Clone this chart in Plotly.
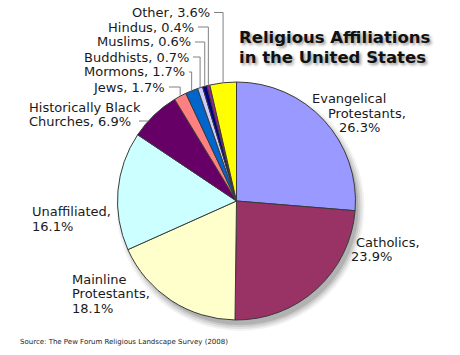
import math
import plotly.graph_objects as go

# ---- data ----
categories = ["Evangelical Protestants", "Catholics", "Mainline Protestants", "Unaffiliated",
              "Historically Black Churches", "Jews", "Mormons", "Buddhists", "Muslims",
              "Hindus", "Other"]
values = [26.3, 23.9, 18.1, 16.1, 6.9, 1.7, 1.7, 0.7, 0.6, 0.4, 3.6]
colors = ["#9999FF", "#993366", "#FFFFCC", "#CCFFFF", "#660066", "#FF8080",
          "#0066CC", "#CCCCFF", "#000080", "#A020A0", "#FFFF00"]
title_lines = ["Religious Affiliations", "in the United States"]
source_text = "Source: The Pew Forum Religious Landscape Survey (2008)"

# ---- layout helpers (pixel geometry) ----
W, H = 460, 355
cx, cy, R = 236.5, 201.0, 119.0


def px(x):
    return x / W


def py(y):
    return 1 - y / H


# words per line for each label
groups = [[1, 1, 1], [1, 1], [1, 1, 1], [1, 1], [2, 2], [2], [2], [2], [2], [2], [2]]
# (x, y, xanchor) for each line
pos = [
    [(310, 98.5, "left"), (326, 113, "left"), (337, 127.5, "left")],
    [(354, 242, "left"), (349, 256.5, "left")],
    [(70, 279, "left"), (70, 293.5, "left"), (70, 308, "left")],
    [(30, 211.5, "left"), (30, 226, "left")],
    [(27, 107, "left"), (27, 121, "left")],
    [(167, 87, "right")],
    [(187, 72, "right")],
    [(191, 57, "right")],
    [(193, 42, "right")],
    [(196, 27, "right")],
    [(212, 12.5, "right")],
]
label_font = dict(family="DejaVu Sans", size=13, color="#1a1a1a")

fig = go.Figure()
fig.add_trace(go.Pie(
    labels=categories, values=values, sort=False, direction="clockwise", rotation=0,
    marker=dict(colors=colors, line=dict(color="#3a3a3a", width=1)),
    textinfo="none", hoverinfo="label+percent", showlegend=False,
    domain=dict(x=[px(cx - R), px(cx + R)], y=[py(cy + R), py(cy - R)]),
))

annotations = []
for name, v, g, pp in zip(categories, values, groups, pos):
    tokens = name.split()
    tokens[-1] += ","
    tokens.append(f"{v}%")
    i = 0
    for n, (x, y, xa) in zip(g, pp):
        line = " ".join(tokens[i:i + n])
        i += n
        annotations.append(dict(text=line, x=px(x), y=py(y), xref="paper", yref="paper",
                                xanchor=xa, yanchor="middle", showarrow=False, font=label_font))

# title
for t, y in zip(title_lines, [37.5, 57]):
    annotations.append(dict(text=t, x=px(237), y=py(y), xref="paper", yref="paper",
                            xanchor="left", yanchor="middle", showarrow=False,
                            font=dict(family="DejaVu Sans", size=16.5, weight="bold", color="#111111",
                                      shadow="2px 2px 3px #999999")))
annotations.append(dict(text=source_text, x=px(18), y=py(342), xref="paper", yref="paper",
                        xanchor="left", yanchor="middle", showarrow=False,
                        font=dict(family="DejaVu Sans", size=7, color="#222222")))

shapes = []
# soft drop shadow behind the pie
for k, a in [(5, 0.05), (3, 0.07), (1, 0.09), (-1, 0.12)]:
    ox, oy = 4, 6
    shapes.append(dict(type="circle", xref="paper", yref="paper", layer="below",
                       x0=px(cx + ox - R - k), x1=px(cx + ox + R + k),
                       y0=py(cy + oy + R + k), y1=py(cy + oy - R - k),
                       fillcolor=f"rgba(0,0,0,{a})", line=dict(width=0)))

# leader lines computed from slice geometry
total = sum(values)
cum = 0.0
for idx, v in enumerate(values):
    mid = (cum + v / 2) / total * 2 * math.pi
    cum += v
    if idx >= 5:
        ex = cx + R * math.sin(mid)
        ey = cy - R * math.cos(mid)
        x0, y0, _ = pos[idx][0]
        path = f"M {px(x0 + 2)},{py(y0)} L {px(ex)},{py(y0)} L {px(ex)},{py(ey)}"
        shapes.append(dict(type="path", xref="paper", yref="paper", path=path,
                           line=dict(color="#808080", width=1)))
    elif idx == 4:
        x0, y0, _ = pos[idx][-1]
        sx = 139
        ex = cx - math.sqrt(R * R - (y0 - cy) ** 2)
        shapes.append(dict(type="line", xref="paper", yref="paper",
                           x0=px(sx), y0=py(y0), x1=px(ex), y1=py(y0),
                           line=dict(color="#808080", width=1)))

fig.update_layout(width=W, height=H, margin=dict(l=0, r=0, t=0, b=0),
                  paper_bgcolor="white", plot_bgcolor="white",
                  annotations=annotations, shapes=shapes)
fig.write_html("out.html", config={"displayModeBar": False},
               post_script="document.body.style.margin='0';document.body.style.overflow='hidden';")
